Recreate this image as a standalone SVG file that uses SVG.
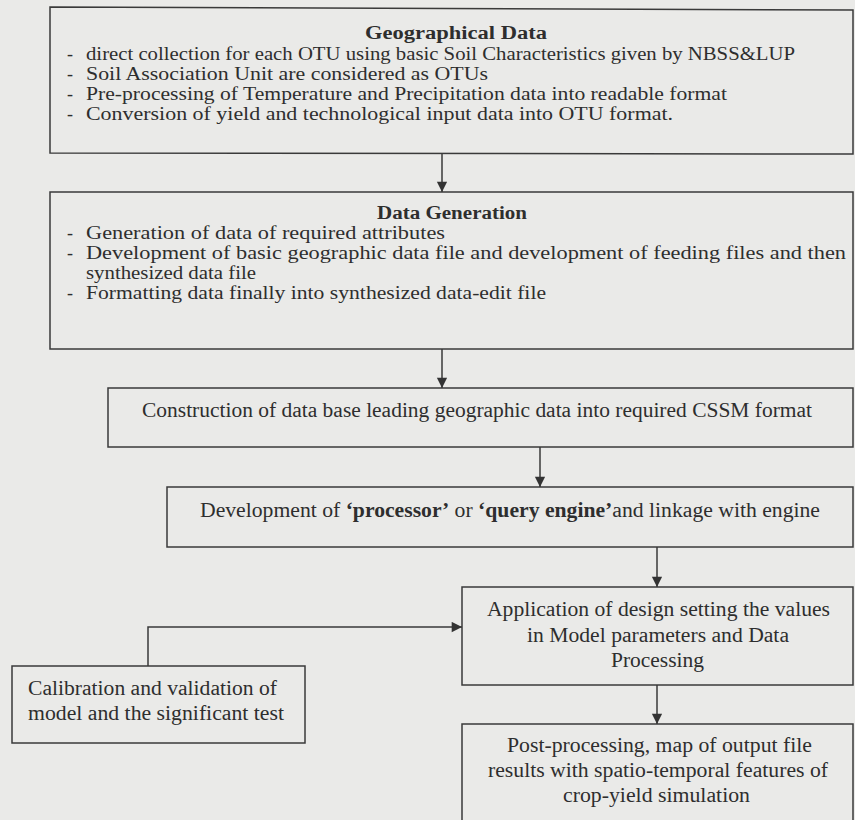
<svg xmlns="http://www.w3.org/2000/svg" width="855" height="820" viewBox="0 0 855 820">
<defs>
<style>
.bg{fill:#eaeae8}
.box{fill:none;stroke:#3a3a3a;stroke-width:1.5}
.t{font-family:"Liberation Serif","Times New Roman",serif;font-size:20px;fill:#2e2e2e}
.s{font-size:18px}
.b{font-weight:bold}
.c{fill:none;stroke:#3a3a3a;stroke-width:1.5}
</style>
<marker id="ah" viewBox="0 0 12 14" refX="12" refY="6" markerWidth="12" markerHeight="12" markerUnits="userSpaceOnUse" orient="auto">
<path d="M0,0 L12,6 L0,12 z" fill="#333"/>
</marker>
</defs>
<rect class="bg" x="0" y="0" width="855" height="820"/>

<g id="geographical-data">
<polygon class="box" points="50,7 853,10 853,154 50,153"/>
<text class="t s b" x="365" y="39" textLength="182" lengthAdjust="spacingAndGlyphs">Geographical Data</text>
<text class="t s" x="67" y="60">-</text>
<text class="t s" x="86" y="60" textLength="709" lengthAdjust="spacingAndGlyphs">direct collection for each OTU using basic Soil Characteristics given by NBSS&amp;LUP</text>
<text class="t s" x="67" y="80">-</text>
<text class="t s" x="86" y="80" textLength="402" lengthAdjust="spacingAndGlyphs">Soil Association Unit are considered as OTUs</text>
<text class="t s" x="67" y="100">-</text>
<text class="t s" x="86" y="100" textLength="641" lengthAdjust="spacingAndGlyphs">Pre-processing of Temperature and Precipitation data into readable format</text>
<text class="t s" x="67" y="120">-</text>
<text class="t s" x="86" y="120" textLength="587" lengthAdjust="spacingAndGlyphs">Conversion of yield and technological input data into OTU format.</text>
</g>

<g id="data-generation">
<rect class="box" x="50" y="192" width="803" height="157"/>
<text class="t s b" x="377" y="219" textLength="150" lengthAdjust="spacingAndGlyphs">Data Generation</text>
<text class="t s" x="67" y="239">-</text>
<text class="t s" x="86" y="239" textLength="359" lengthAdjust="spacingAndGlyphs">Generation of data of required attributes</text>
<text class="t s" x="67" y="259">-</text>
<text class="t s" x="86" y="259" textLength="760" lengthAdjust="spacingAndGlyphs">Development of basic geographic data file and development of feeding files and then</text>
<text class="t s" x="86" y="279" textLength="170" lengthAdjust="spacingAndGlyphs">synthesized data file</text>
<text class="t s" x="67" y="299">-</text>
<text class="t s" x="86" y="299" textLength="460" lengthAdjust="spacingAndGlyphs">Formatting data finally into synthesized data-edit file</text>
</g>

<g id="construction">
<rect class="box" x="108" y="388" width="745" height="59"/>
<text class="t" x="142" y="417" textLength="670" lengthAdjust="spacingAndGlyphs">Construction of data base leading geographic data into required CSSM format</text>
</g>

<g id="processor">
<rect class="box" x="167" y="487" width="686" height="60"/>
<text class="t" x="200" y="517" textLength="620" lengthAdjust="spacingAndGlyphs">Development of <tspan class="b">‘processor’</tspan> or <tspan class="b">‘query engine’</tspan>and linkage with engine</text>
</g>

<g id="application">
<rect class="box" x="462" y="587" width="391" height="98"/>
<text class="t" x="487" y="616" textLength="343" lengthAdjust="spacingAndGlyphs">Application of design setting the values</text>
<text class="t" x="527" y="642" textLength="262" lengthAdjust="spacingAndGlyphs">in Model parameters and Data</text>
<text class="t" x="611" y="667" textLength="93" lengthAdjust="spacingAndGlyphs">Processing</text>
</g>

<g id="post-processing">
<rect class="box" x="462" y="724" width="391" height="104"/>
<text class="t" x="507" y="752" textLength="305" lengthAdjust="spacingAndGlyphs">Post-processing, map of output file</text>
<text class="t" x="488" y="777" textLength="340" lengthAdjust="spacingAndGlyphs">results with spatio-temporal features of</text>
<text class="t" x="563" y="802" textLength="187" lengthAdjust="spacingAndGlyphs">crop-yield simulation</text>
</g>

<g id="calibration">
<rect class="box" x="12" y="666" width="293" height="77"/>
<text class="t" x="28" y="695" textLength="249" lengthAdjust="spacingAndGlyphs">Calibration and validation of</text>
<text class="t" x="28" y="720" textLength="256" lengthAdjust="spacingAndGlyphs">model and the significant test</text>
</g>

<g id="connectors">
<line class="c" x1="442" y1="154" x2="442" y2="192" marker-end="url(#ah)"/>
<line class="c" x1="442" y1="349" x2="442" y2="388" marker-end="url(#ah)"/>
<line class="c" x1="540" y1="447" x2="540" y2="487" marker-end="url(#ah)"/>
<line class="c" x1="657" y1="547" x2="657" y2="587" marker-end="url(#ah)"/>
<line class="c" x1="657" y1="685" x2="657" y2="724" marker-end="url(#ah)"/>
<polyline class="c" points="148,666 148,627 462,627" marker-end="url(#ah)"/>
</g>
</svg>
